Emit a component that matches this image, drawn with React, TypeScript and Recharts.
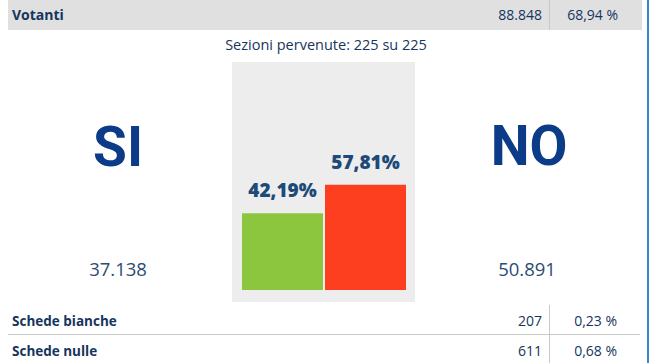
import React from 'react';
import { BarChart, Bar, XAxis, YAxis, LabelList, Cell } from 'recharts';

const categories = ['SI', 'NO'];
const percentValues = [42.19, 57.81];
const percentLabels = ['42,19%', '57,81%'];
const voteCounts = ['37.138', '50.891'];
const barColors = ['#8cc63f', '#fd3f1f'];

const turnoutRow = { label: 'Votanti', count: '88.848', pct: '68,94 %' };
const sectionsText = 'Sezioni pervenute: 225 su 225';
const footerLabels = ['Schede bianche', 'Schede nulle'];
const footerCounts = ['207', '611'];
const footerPcts = ['0,23 %', '0,68 %'];

const chartData = categories.map((name, i) => ({
  name,
  value: percentValues[i],
  label: percentLabels[i],
}));

const FONT = '"Open Sans", "Noto Sans", sans-serif';
const BIGFONT = 'Roboto, "Open Sans", sans-serif';
const DARK = '#16355e';
const BIG = '#0c3c88';

export default function App() {
  return (
    <div style={{ position: 'absolute', left: 0, top: 0, width: 650, height: 363, background: '#ffffff', overflow: 'hidden', fontFamily: FONT }}>
      <svg width={650} height={363} style={{ position: 'absolute', left: 0, top: 0 }}>
        <rect x={8} y={0} width={634} height={30} fill="#e0e0e0" />
        <line x1={549.5} y1={0} x2={549.5} y2={30} stroke="#c9c9c9" strokeWidth={1} />
        <text x={12} y={20} fontSize={14} fontWeight={700} fill={DARK} fontFamily={FONT}>{turnoutRow.label}</text>
        <text x={542} y={20} fontSize={14} textAnchor="end" fill={DARK} fontFamily={FONT}>{turnoutRow.count}</text>
        <text x={618} y={20} fontSize={14} textAnchor="end" fill={DARK} fontFamily={FONT}>{turnoutRow.pct}</text>

        <text x={326} y={50} fontSize={14.5} textAnchor="middle" fill={DARK} fontFamily={FONT}>{sectionsText}</text>

        <text x={118} y={166} fontSize={55} fontWeight={700} textAnchor="middle" fill={BIG} fontFamily={BIGFONT}>{categories[0]}</text>
        <text x={529} y={165} fontSize={55} fontWeight={700} textAnchor="middle" fill={BIG} fontFamily={BIGFONT}>{categories[1]}</text>
        <text x={118} y={276} fontSize={18.5} textAnchor="middle" fill="#2b4c74" fontFamily={FONT}>{voteCounts[0]}</text>
        <text x={527} y={276} fontSize={18.5} textAnchor="middle" fill="#2b4c74" fontFamily={FONT}>{voteCounts[1]}</text>

        <line x1={549.5} y1={305} x2={549.5} y2={363} stroke="#c9c9c9" strokeWidth={1} />
        <line x1={8} y1={334.5} x2={640} y2={334.5} stroke="#c9c9c9" strokeWidth={1} />
        {footerLabels.map((l, i) => (
          <g key={l}>
            <text x={12} y={326 + i * 30} fontSize={13.5} fontWeight={700} fill={DARK} fontFamily={FONT}>{l}</text>
            <text x={542} y={326 + i * 30} fontSize={14} textAnchor="end" fill={DARK} fontFamily={FONT}>{footerCounts[i]}</text>
            <text x={617} y={326 + i * 30} fontSize={14} textAnchor="end" fill={DARK} fontFamily={FONT}>{footerPcts[i]}</text>
          </g>
        ))}
        <line x1={648} y1={0} x2={648} y2={363} stroke="#3a87c8" strokeWidth={2} />
      </svg>
      <div style={{ position: 'absolute', left: 232, top: 62, width: 183, height: 240, background: '#ededed' }}>
        <BarChart width={183} height={240} data={chartData} margin={{ top: 46, right: 8, bottom: 12, left: 9 }} barCategoryGap={1}>
          <XAxis dataKey="name" hide />
          <YAxis domain={[0, 100]} hide />
          <Bar dataKey="value" barSize={81} isAnimationActive={false}>
            {chartData.map((d, i) => (
              <Cell key={d.name} fill={barColors[i]} />
            ))}
            <LabelList dataKey="label" position="top" offset={16} fill="#1d4a78" fontSize={19} fontWeight={800} fontFamily={FONT} />
          </Bar>
        </BarChart>
      </div>
    </div>
  );
}
